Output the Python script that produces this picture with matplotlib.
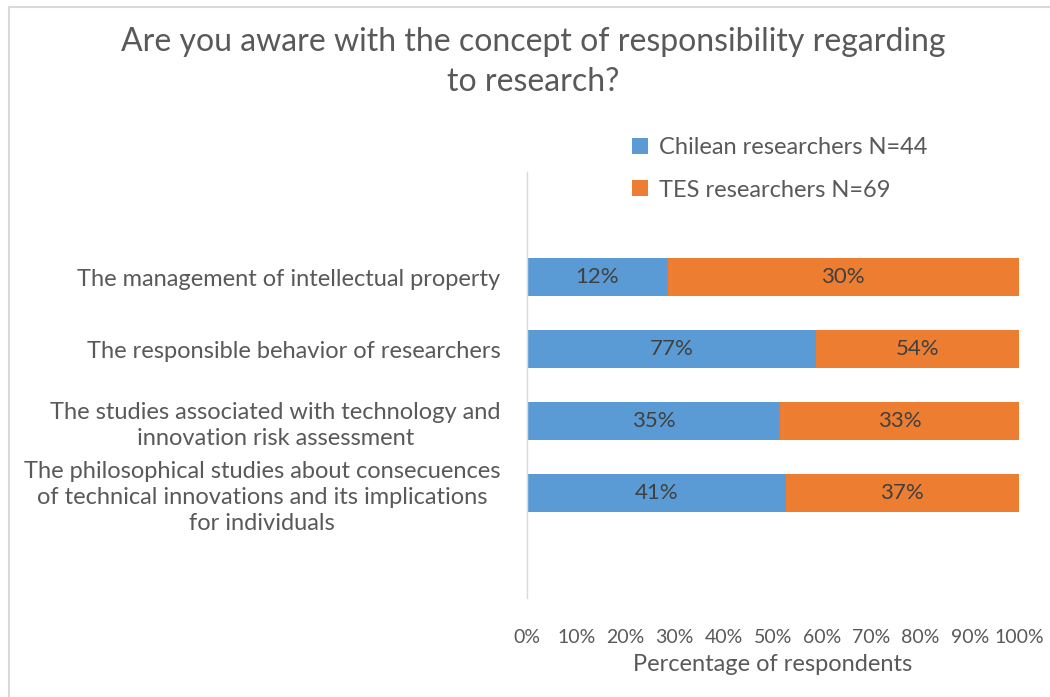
import numpy as np
import matplotlib.pyplot as plt
from matplotlib.lines import Line2D

plt.rcParams['font.family'] = ['Lato', 'DejaVu Sans']

categories = ['The management of intellectual property',
              'The responsible behavior of researchers',
              'The studies associated with technology and\ninnovation risk assessment',
              'The philosophical studies about consecuences\nof technical innovations and its implications\nfor individuals']
chilean = [12, 77, 35, 41]
tes = [30, 54, 33, 37]
series_names = ['Chilean researchers N=44', 'TES researchers N=69']
xticks = [0, 10, 20, 30, 40, 50, 60, 70, 80, 90, 100]

blue = '#5B9BD5'
orange = '#ED7D31'
txt = '#595959'

ch = np.array(chilean, dtype=float)
te = np.array(tes, dtype=float)
tot = ch + te
ch_p = ch / tot * 100
te_p = te / tot * 100

fig = plt.figure(figsize=(10.5, 6.97), dpi=100)
ax = fig.add_axes([527 / 1050, 1 - 598 / 697, (1019 - 527) / 1050, (598 - 172) / 697])

y = np.arange(len(categories))
b1 = ax.barh(y, ch_p, height=0.53, color=blue, label=series_names[0])
b2 = ax.barh(y, te_p, left=ch_p, height=0.53, color=orange, label=series_names[1])

for i in range(len(y)):
    ax.text(ch_p[i] / 2, y[i], '%d%%' % chilean[i], ha='center', va='center',
            fontsize=16, color='#404040')
    ax.text(ch_p[i] + te_p[i] / 2, y[i], '%d%%' % tes[i], ha='center', va='center',
            fontsize=16, color='#404040')

ax.set_ylim(3 + 1.46, -1.46)
ax.set_xlim(0, 100)
ax.set_yticks(y)
ax.set_yticklabels(categories, fontsize=17, color=txt, multialignment='center',
                   linespacing=1.3)
ax.set_xticks(xticks)
ax.set_xticklabels(['%d%%' % v for v in xticks], fontsize=14, color=txt)
ax.tick_params(axis='y', length=0, pad=19)
ax.tick_params(axis='x', length=0, pad=22)
for s in ['top', 'right', 'bottom']:
    ax.spines[s].set_visible(False)
ax.spines['left'].set_color('#d9d9d9')
ax.spines['left'].set_linewidth(1)
ax.set_xlabel('Percentage of respondents', fontsize=17, color=txt, labelpad=6)

fig.text(533 / 1050, 1 - 62 / 697, 'Are you aware with the concept of responsibility regarding\nto research?',
         ha='center', va='center', fontsize=23, color=txt, linespacing=1.45)

leg = fig.legend(handles=[b1, b2], loc='center left', bbox_to_anchor=(611 / 1050, 1 - 169 / 697),
                 frameon=False, fontsize=17, handlelength=0.65, handleheight=0.65,
                 handletextpad=0.5, labelspacing=0.9)
for t in leg.get_texts():
    t.set_color(txt)

# chart border
fig.add_artist(Line2D([9 / 1050, 9 / 1050], [0, 1 - 7 / 697], transform=fig.transFigure,
                      color='#d9d9d9', lw=1.5))
fig.add_artist(Line2D([9 / 1050, 1], [1 - 7 / 697, 1 - 7 / 697], transform=fig.transFigure,
                      color='#d9d9d9', lw=1.5))

fig.savefig('out.png', dpi=100, facecolor='white')
